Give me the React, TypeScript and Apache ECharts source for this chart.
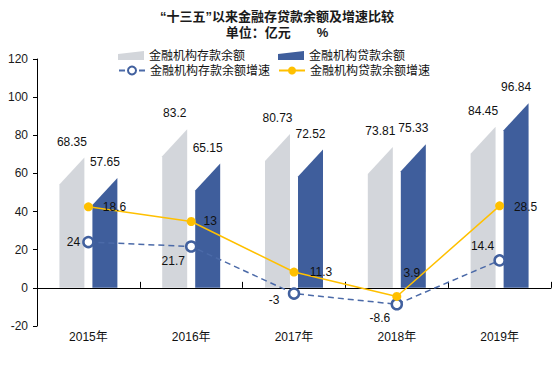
import React, { useEffect, useRef } from 'react';
import * as echarts from 'echarts';

const years = ['2015年', '2016年', '2017年', '2018年', '2019年'];
const depositBalance = [68.35, 83.2, 80.73, 73.81, 84.45];
const loanBalance = [57.65, 65.15, 72.52, 75.33, 96.84];
const depositGrowth = [24, 21.7, -3, -8.6, 14.4];
const loanGrowthLabels = [18.6, 13, 11.3, 3.9, 28.5];
// heights (on the left axis) at which the reference draws the loan-growth points
const loanGrowthPlotted = [42.5, 34.8, 8.3, -4.5, 43];
const yMin = -20;
const yMax = 120;
const yInterval = 20;

const TITLE = '“十三五”以来金融存贷款余额及增速比较';
const SUBTITLE = '单位：亿元　　%';
const NAME_DEP = '金融机构存款余额';
const NAME_LOAN = '金融机构贷款余额';
const NAME_DEPG = '金融机构存款余额增速';
const NAME_LOANG = '金融机构贷款余额增速';

const GRAY = '#D3D6DB';
const BLUE = '#3F5E9C';
const DASH = '#4B6AA8';
const YELLOW = '#FFC000';
const TXT = '#111111';
const NUMFONT = '"Liberation Sans", Arial, "Noto Sans CJK SC", sans-serif';

const depLabelOffsets = [[-15, 0], [-18, 15], [-20, 6], [-17, 14], [-17, -14]];
const loanLabelOffsets = [[26, 0], [19, 0], [27, 0], [15, -23], [26, 1]];

function slantBar(side: number, color: string) {
  return (params: any, api: any) => {
    const idx = api.value(0);
    const val = api.value(1);
    const top = api.coord([idx, val]);
    const base = api.coord([idx, 0]);
    const band = api.size([1, 0])[0];
    const w = band * 0.243;
    const gap = band * 0.039;
    const x0 = side < 0 ? top[0] - gap - w : top[0] + gap;
    const x1 = x0 + w;
    const slant = 27;
    return {
      type: 'group',
      children: [
        {
          type: 'polygon',
          shape: { points: [[x0, base[1]], [x0, top[1] + slant], [x1, top[1]], [x1, base[1]]] },
          style: { fill: color },
        },
        {
          type: 'text',
          x: (x0 + x1) / 2,
          y: top[1] - 16,
          style: {
            text: String(val),
            fill: TXT,
            font: `12px ${NUMFONT}`,
            align: 'center',
            verticalAlign: 'middle',
          },
        },
      ],
    };
  };
}

export default function App() {
  const ref = useRef<HTMLDivElement>(null);
  useEffect(() => {
    if (!ref.current) return;
    const chart = echarts.init(ref.current, undefined, { renderer: 'svg' });
    const legendBase = {
      orient: 'horizontal',
      padding: 0,
      itemGap: 0,
      itemWidth: 26,
      itemHeight: 9,
      textStyle: { fontSize: 12, color: TXT, fontFamily: NUMFONT, lineHeight: 13 },
    };
    const barIcon = 'path://M0,3L26,0L26,9L0,9Z';
    const titleStyle = { fontSize: 13, fontWeight: 'bold', color: '#1a1a1a', fontFamily: NUMFONT, lineHeight: 15 };
    chart.setOption({
      animation: false,
      backgroundColor: '#ffffff',
      title: [
        { text: TITLE, left: 'center', top: 9, padding: 0, textStyle: titleStyle },
        { text: SUBTITLE, left: 'center', top: 25, padding: 0, textStyle: titleStyle },
      ],
      legend: [
        { ...legendBase, left: 118, top: 49, data: [{ name: NAME_DEP, icon: barIcon }] },
        { ...legendBase, left: 278, top: 49, data: [{ name: NAME_LOAN, icon: barIcon }] },
        { ...legendBase, left: 118, top: 64, itemHeight: 10, data: [{ name: NAME_DEPG }] },
        { ...legendBase, left: 278, top: 64, itemHeight: 10, data: [{ name: NAME_LOANG }] },
      ],
      grid: { left: 37, right: 3, top: 59, bottom: 44, containLabel: false },
      xAxis: [
        {
          type: 'category',
          data: years,
          position: 'bottom',
          axisLine: { show: false, onZero: false },
          axisTick: { show: false },
          axisLabel: { margin: 5, fontSize: 12, color: TXT, fontFamily: NUMFONT },
        },
        {
          type: 'category',
          data: years,
          position: 'bottom',
          axisLine: { show: true, onZero: true, lineStyle: { color: '#000', width: 1 } },
          axisTick: { show: true, inside: true, length: 6, lineStyle: { color: '#000' } },
          axisLabel: { show: false },
        },
      ],
      yAxis: {
        type: 'value',
        min: yMin,
        max: yMax,
        interval: yInterval,
        splitLine: { show: false },
        axisLine: { show: true, lineStyle: { color: '#000', width: 1 } },
        axisTick: { show: true, length: 4, lineStyle: { color: '#000' } },
        axisLabel: { margin: 9, fontSize: 12, color: '#1a1a1a', fontFamily: NUMFONT },
      },
      series: [
        {
          name: NAME_DEP,
          type: 'custom',
          xAxisIndex: 0,
          itemStyle: { color: GRAY },
          renderItem: slantBar(-1, GRAY),
          encode: { x: 0, y: 1 },
          data: depositBalance.map((v, i) => [i, v]),
          z: 2,
        },
        {
          name: NAME_LOAN,
          type: 'custom',
          xAxisIndex: 0,
          itemStyle: { color: BLUE },
          renderItem: slantBar(1, BLUE),
          encode: { x: 0, y: 1 },
          data: loanBalance.map((v, i) => [i, v]),
          z: 2,
        },
        {
          name: NAME_DEPG,
          type: 'line',
          xAxisIndex: 0,
          z: 4,
          symbol: 'circle',
          symbolSize: 10,
          itemStyle: { color: '#ffffff', borderColor: '#41609E', borderWidth: 2.5 },
          lineStyle: { color: DASH, width: 1.5, type: [6, 4] },
          label: { show: true, position: 'inside', color: TXT, fontSize: 12, fontFamily: NUMFONT },
          data: depositGrowth.map((v, i) => ({ value: v, label: { offset: depLabelOffsets[i] } })),
        },
        {
          name: NAME_LOANG,
          type: 'line',
          xAxisIndex: 0,
          z: 5,
          symbol: 'circle',
          symbolSize: 9,
          itemStyle: { color: YELLOW },
          lineStyle: { color: YELLOW, width: 1.5 },
          label: { show: true, position: 'inside', color: TXT, fontSize: 12, fontFamily: NUMFONT },
          data: loanGrowthPlotted.map((v, i) => ({
            value: v,
            label: { formatter: String(loanGrowthLabels[i]), offset: loanLabelOffsets[i] },
          })),
        },
      ],
    });
    return () => chart.dispose();
  }, []);
  return <div ref={ref} style={{ position: 'fixed', left: 0, top: 0, width: 554, height: 370 }} />;
}
